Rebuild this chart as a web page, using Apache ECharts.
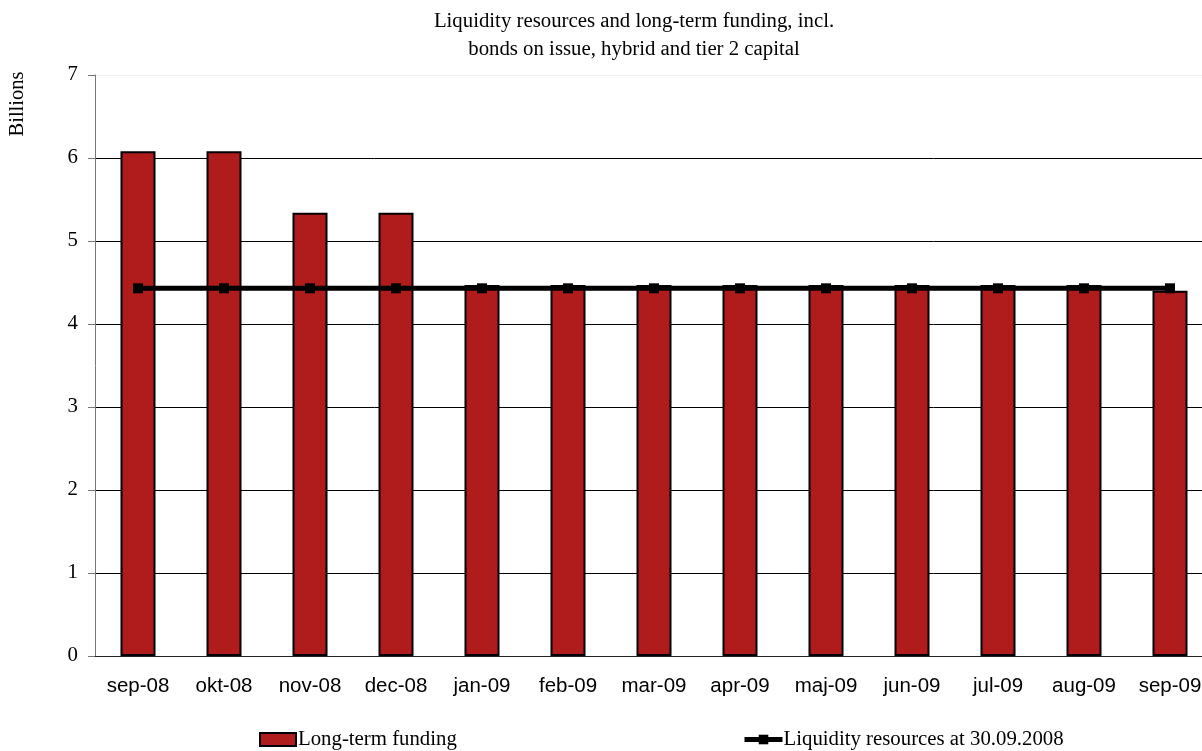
<!DOCTYPE html>
<html>
<head>
<meta charset="utf-8">
<script src="https://cdn.jsdelivr.net/npm/echarts@6/dist/echarts.min.js"></script>
<style>html,body{margin:0;padding:0;background:#fff;overflow:hidden}#c{width:1213px;height:751px}</style>
</head>
<body>
<div id="c"></div>
<script>
const categories = ['sep-08','okt-08','nov-08','dec-08','jan-09','feb-09','mar-09','apr-09','maj-09','jun-09','jul-09','aug-09','sep-09'];
const longTermFunding = [6.08,6.08,5.34,5.34,4.47,4.47,4.47,4.47,4.47,4.47,4.47,4.47,4.40];
const liquidityResources = [4.43,4.43,4.43,4.43,4.43,4.43,4.43,4.43,4.43,4.43,4.43,4.43,4.43];
const yTicks = [0,1,2,3,4,5,6,7];

const serif = '"Liberation Serif", "Times New Roman", serif';
const sans = '"Liberation Sans", Arial, sans-serif';
const chart = echarts.init(document.getElementById('c'), null, {renderer:'canvas'});
chart.setOption({
  animation:false,
  backgroundColor:'#fff',
  title:{
    text:'Liquidity resources and long-term funding, incl.\nbonds on issue, hybrid and tier 2 capital',
    left:629, top:3, textAlign:'center',
    textStyle:{fontFamily:serif, fontSize:20.8, fontWeight:'normal', color:'#000', lineHeight:28}
  },
  graphic:[{
    type:'text', x:18, y:104, rotation:Math.PI/2,
    style:{text:'Billions', fontFamily:serif, fontSize:20.5, fill:'#000', align:'center', verticalAlign:'middle'}
  }],
  legend:[
    {data:[{name:'Long-term funding', icon:'rect'}], left:259, top:729, itemWidth:36, itemHeight:13, padding:0,
     textStyle:{fontFamily:serif, fontSize:20.8, color:'#000', padding:[11,0,0,-3]}},
    {data:[{name:'Liquidity resources at 30.09.2008'}], left:742, top:729, itemWidth:38, itemHeight:12, padding:0,
     lineStyle:{width:5},
     textStyle:{fontFamily:serif, fontSize:20.8, color:'#000', padding:[12,0,0,-4]}}
  ],
  grid:{left:95, top:75, right:0, bottom:95, containLabel:false},
  xAxis:{
    type:'category', data:categories, boundaryGap:true,
    axisLine:{lineStyle:{color:'#222', width:1}},
    axisTick:{length:7, lineStyle:{color:'#777'}},
    axisLabel:{fontFamily:sans, fontSize:20.5, color:'#000', margin:20}
  },
  yAxis:{
    type:'value', min:yTicks[0], max:yTicks[yTicks.length-1], interval:1,
    axisLine:{show:true, lineStyle:{color:'#777'}},
    axisTick:{show:true, length:7, lineStyle:{color:'#777'}},
    axisLabel:{fontFamily:serif, fontSize:20.8, color:'#000', margin:17, formatter:v=>yTicks.includes(v)?String(v):''},
    splitLine:{show:true, lineStyle:{color:['#000','#000','#000','#000','#000','#000','#000','#eeeeee'], width:1}}
  },
  series:[
    {name:'Long-term funding', type:'bar', data:longTermFunding, barWidth:35,
     itemStyle:{color:'#B01C1C', borderColor:'#000', borderWidth:2}},
    {name:'Liquidity resources at 30.09.2008', type:'line', data:liquidityResources,
     symbol:'rect', symbolSize:10, showSymbol:true,
     lineStyle:{color:'#000', width:5}, itemStyle:{color:'#000'}}
  ]
});
</script>
</body>
</html>
